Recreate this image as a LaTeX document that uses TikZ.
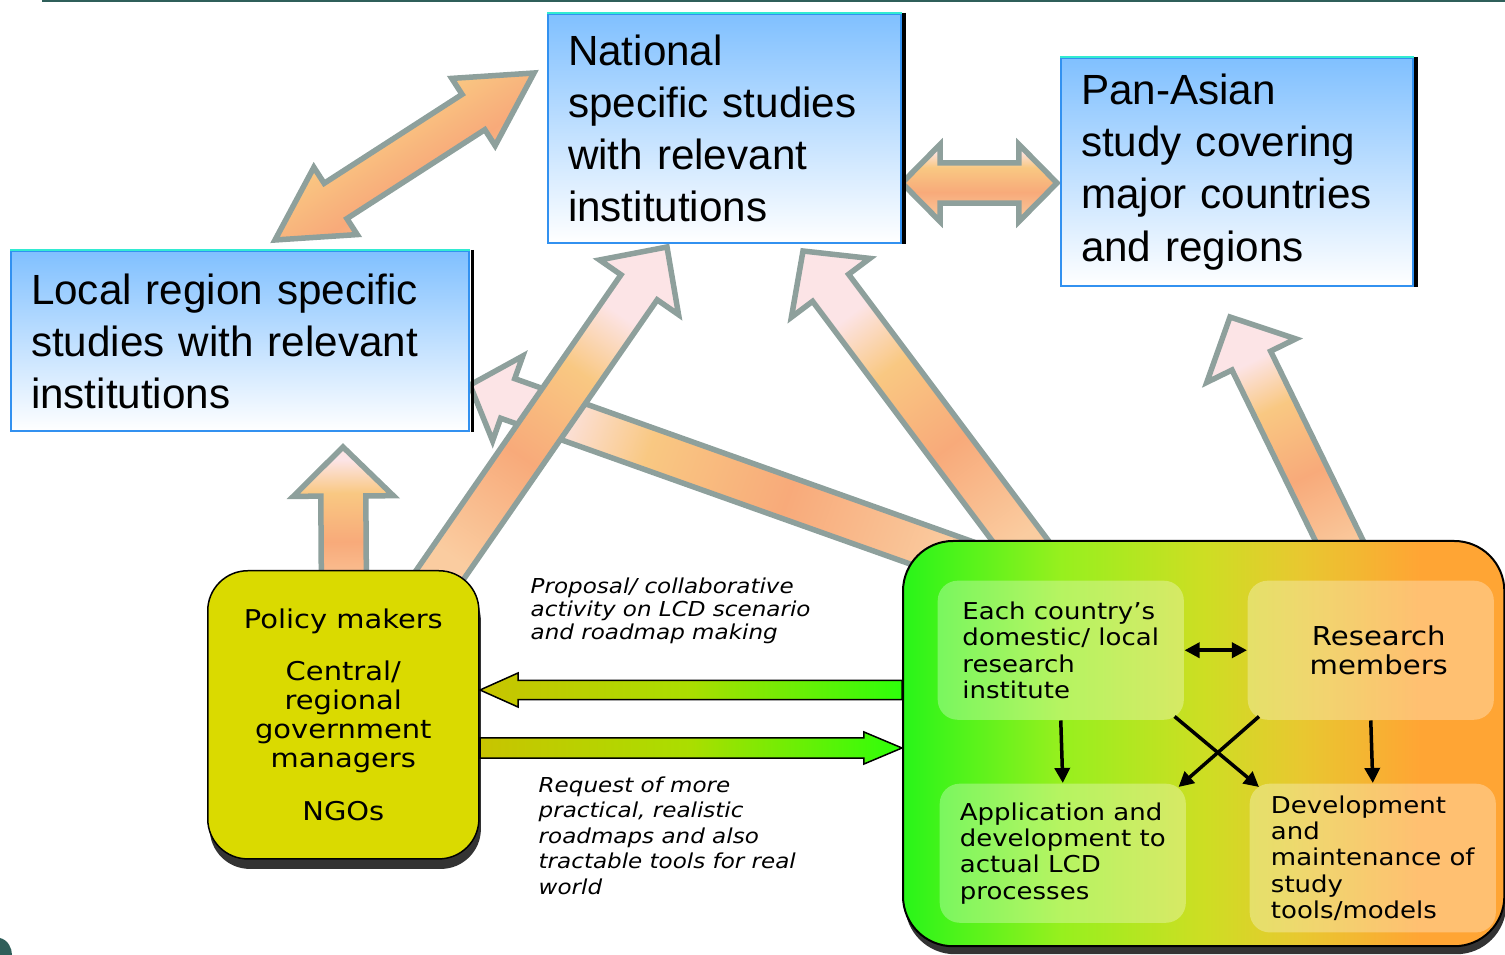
\documentclass[tikz,border=0pt]{standalone}
\usepackage{fontspec}
\setmainfont{Liberation Sans}
\newfontfamily\verd[FakeStretch=1.12]{DejaVu Sans}
\usetikzlibrary{positioning,calc,backgrounds,shadows,arrows.meta}

\definecolor{slideteal}{RGB}{47,95,90}
\definecolor{arrowgray}{RGB}{142,160,156}
\definecolor{peachtail}{RGB}{250,204,160}
\definecolor{peachmid}{RGB}{248,170,122}
\definecolor{peachyel}{RGB}{249,200,130}
\definecolor{peachtip}{RGB}{252,228,230}
\definecolor{skytop}{RGB}{128,192,255}
\definecolor{skymid}{RGB}{180,232,255}
\definecolor{boxblue}{RGB}{50,145,240}
\definecolor{boxcyan}{RGB}{50,235,210}
\definecolor{policyyel}{RGB}{218,218,0}
\definecolor{olivearr}{RGB}{200,196,0}
\definecolor{midarr}{RGB}{170,222,0}
\definecolor{limearr}{RGB}{45,255,10}
\definecolor{teamA}{RGB}{40,245,25}
\definecolor{teamB}{RGB}{150,240,30}
\definecolor{teamC}{RGB}{205,222,35}
\definecolor{teamD}{RGB}{232,200,48}
\definecolor{teamE}{RGB}{255,165,52}

\pgfdeclarehorizontalshading{peach}{100bp}{color(0bp)=(peachtail); color(25bp)=(peachtail); color(44bp)=(peachmid); color(60bp)=(peachyel); color(71bp)=(peachtip); color(100bp)=(peachtip)}
\pgfdeclarehorizontalshading{olivelime}{100bp}{color(0bp)=(olivearr); color(25bp)=(olivearr); color(50bp)=(midarr); color(75bp)=(limearr); color(100bp)=(limearr)}
\pgfdeclarehorizontalshading{teamgrad}{100bp}{color(0bp)=(teamA); color(25bp)=(teamA); color(38bp)=(teamB); color(50bp)=(teamC); color(58bp)=(teamD); color(68bp)=(teamE); color(100bp)=(teamE)}

% block arrow: [style] tail, tip, half shaft, half head, head length
\newcommand{\blockarrow}[6][]{%
  \coordinate (ba-neck) at ($(#3)!#6!(#2)$);
  \pgfmathanglebetweenpoints{\pgfpointanchor{#2}{center}}{\pgfpointanchor{#3}{center}}%
  \let\baangle\pgfmathresult
  \draw[peacharrow, shading angle=\baangle, #1]
    ($(#2)!#4!90:(#3)$) -- ($(ba-neck)!#4!90:(#3)$) -- ($(ba-neck)!#5!90:(#3)$) -- (#3)
    -- ($(ba-neck)!#5!-90:(#3)$) -- ($(ba-neck)!#4!-90:(#3)$) -- ($(#2)!#4!-90:(#3)$) -- cycle;
}
% double block arrow: [style] end a, end b, half shaft, half head, head length
\newcommand{\dblarrow}[6][]{%
  \coordinate (da-necka) at ($(#2)!#6!(#3)$);
  \coordinate (da-neckb) at ($(#3)!#6!(#2)$);
  \pgfmathanglebetweenpoints{\pgfpointanchor{#2}{center}}{\pgfpointanchor{#3}{center}}%
  \pgfmathsetmacro\daangle{\pgfmathresult+90}%
  \draw[peacharrow, shading angle=\daangle, #1]
    (#2) -- ($(da-necka)!#5!90:(#3)$) -- ($(da-necka)!#4!90:(#3)$) -- ($(da-neckb)!#4!90:(#3)$)
    -- ($(da-neckb)!#5!90:(#3)$) -- (#3) -- ($(da-neckb)!#5!-90:(#3)$) -- ($(da-neckb)!#4!-90:(#3)$)
    -- ($(da-necka)!#4!-90:(#3)$) -- ($(da-necka)!#5!-90:(#3)$) -- cycle;
}

\begin{document}
\begin{tikzpicture}[
  x=0.01cm, y=-0.01cm,
  peacharrow/.style={shading=peach, draw=arrowgray, line width=0.055cm, line join=miter},
  greenarrow/.style={shading=olivelime, draw=black, line width=0.015cm},
  study/.style={draw=boxblue, line width=0.02cm, top color=skytop, middle color=skymid, bottom color=white,
    align=left, inner xsep=0.2cm, anchor=north west, font=\fontsize{12.0}{14.8}\selectfont},
  inner/.style={fill=white, fill opacity=0.3, text opacity=1, rounded corners=0.2cm, anchor=north west,
    minimum width=2.46cm, minimum height=1.39cm, align=left, font=\verd\fontsize{6.6}{7.5}\selectfont},
  note/.style={align=left, inner sep=0pt, anchor=north west},
  blk/.style={-{Triangle[length=0.15cm,width=0.15cm]}, line width=0.035cm}
]
\useasboundingbox (0,0) rectangle (1505,955);

% slide decoration
\draw[slideteal, line width=0.03cm] (42,1) -- (1505,1);
\fill[slideteal] (0,938) .. controls (8,940) and (12,948) .. (12,955) -- (0,955) -- cycle;

% study boxes
\node[study, text width=3.13cm, minimum height=2.29cm] (natl) at (547,13)
     {National\\ specific studies\\ with relevant\\ institutions};
\node[study, text width=3.12cm, minimum height=2.28cm] (pan) at (1060,57)
     {Pan-Asian\\ study covering\\ major countries\\ and regions};
\node[study, text width=4.18cm, minimum height=1.80cm] (local) at (10,250)
     {Local region specific\\ studies with relevant\\ institutions};
\foreach \b in {natl,pan,local}{
  \draw[boxcyan, line width=0.025cm] (\b.north west) -- (\b.north east);
  \draw[line width=0.035cm] ([xshift=0.02cm]\b.north east) -- ([xshift=0.02cm]\b.south east);
}

% policy side
\node[draw=black, line width=0.015cm, fill=policyyel, rounded corners=0.4cm, anchor=north west,
      minimum width=2.71cm, minimum height=2.88cm, align=center,
      font=\verd\fontsize{7.35}{8.25}\selectfont,
      drop shadow={shadow xshift=0.02cm, shadow yshift=-0.1cm, fill=black, opacity=0.8}]
     (policy) at (207,570)
     {Policy makers\\[0.23cm] Central/\\ regional\\ government\\ managers\\[0.23cm] NGOs};

% research side
\node[draw=black, line width=0.02cm, shading=teamgrad, rounded corners=0.5cm, anchor=north west,
      minimum width=6.01cm, minimum height=4.05cm,
      drop shadow={shadow xshift=0.02cm, shadow yshift=-0.08cm, fill=black, opacity=0.8}]
     (team) at (902,540) {};
\node[inner] (inst) at (937,580) {Each country’s\\ domestic/ local\\ research\\ institute};
\node[inner, align=center, text width=1.9cm, font=\verd\fontsize{7.4}{8.4}\selectfont] (members) at (1247,580)
     {\hspace*{0.16cm}Research\\ \hspace*{0.16cm}members};
\node[inner] (appl) at (939,783) {Application and\\ development to\\ actual LCD\\ processes};
\node[inner] (tools) at (1249,783) {Development\\ and\\ maintenance of\\ study\\ tools/models};

\draw[blk, {Triangle[length=0.15cm,width=0.15cm]}-{Triangle[length=0.15cm,width=0.15cm]}] (inst.east) -- (members.west);
\draw[blk] (inst.south) -- (appl.north);
\draw[blk] (members.south) -- (tools.north);
\draw[blk] ([shift={(-10,-4)}]inst.south east) -- ([shift={(10,4)}]tools.north west);
\draw[blk] ([shift={(12,-4)}]members.south west) -- ([shift={(-8,4)}]appl.north east);

% exchange between the two sides
\coordinate (offer-tail) at (902,690);
\coordinate (offer-tip) at (480,690);
\coordinate (ask-tail) at (480,748);
\coordinate (ask-tip) at (902,748);
\blockarrow[greenarrow, shading angle=0]{offer-tail}{offer-tip}{0.095cm}{0.17cm}{0.38cm}
\blockarrow[greenarrow, shading angle=0]{ask-tail}{ask-tip}{0.1cm}{0.16cm}{0.38cm}

\node[note, font=\verd\itshape\fontsize{5.85}{6.6}\selectfont] (offer-note) at (530,577)
     {Proposal/ collaborative\\ activity on LCD scenario\\ and roadmap making};
\node[note, font=\verd\itshape\fontsize{5.85}{7.25}\selectfont] (ask-note) at (538,776)
     {Request of more\\ practical, realistic\\ roadmaps and also\\ tractable tools for real\\ world};

% feeding arrows (behind the boxes)
\begin{scope}[on background layer]
\coordinate (local-end) at (275,240);
\coordinate (natl-end) at (534,73);
\coordinate (natl-side) at (902,183);
\coordinate (pan-side) at (1057,183);
\dblarrow{local-end}{natl-end}{0.21cm}{0.40cm}{0.72cm}
\dblarrow{natl-side}{pan-side}{0.2cm}{0.385cm}{0.38cm}

\coordinate (pl-tail) at (344,600);  \coordinate (pl-tip) at (343,447);
\coordinate (tl-tail) at (998,573);  \coordinate (tl-tip) at (470,385);
\coordinate (pn-tail) at (428,592);  \coordinate (pn-tip) at (667,247);
\coordinate (tn-tail) at (1043,571); \coordinate (tn-tip) at (803,251);
\coordinate (tp-tail) at (1357,577); \coordinate (tp-tip) at (1230,317);
\blockarrow{pl-tail}{pl-tip}{0.225cm}{0.5cm}{0.49cm}
\blockarrow{tl-tail}{tl-tip}{0.21cm}{0.45cm}{0.40cm}
\blockarrow{pn-tail}{pn-tip}{0.22cm}{0.48cm}{0.49cm}
\blockarrow{tn-tail}{tn-tip}{0.225cm}{0.49cm}{0.46cm}
\blockarrow{tp-tail}{tp-tip}{0.215cm}{0.495cm}{0.485cm}
\end{scope}
\end{tikzpicture}
\end{document}
